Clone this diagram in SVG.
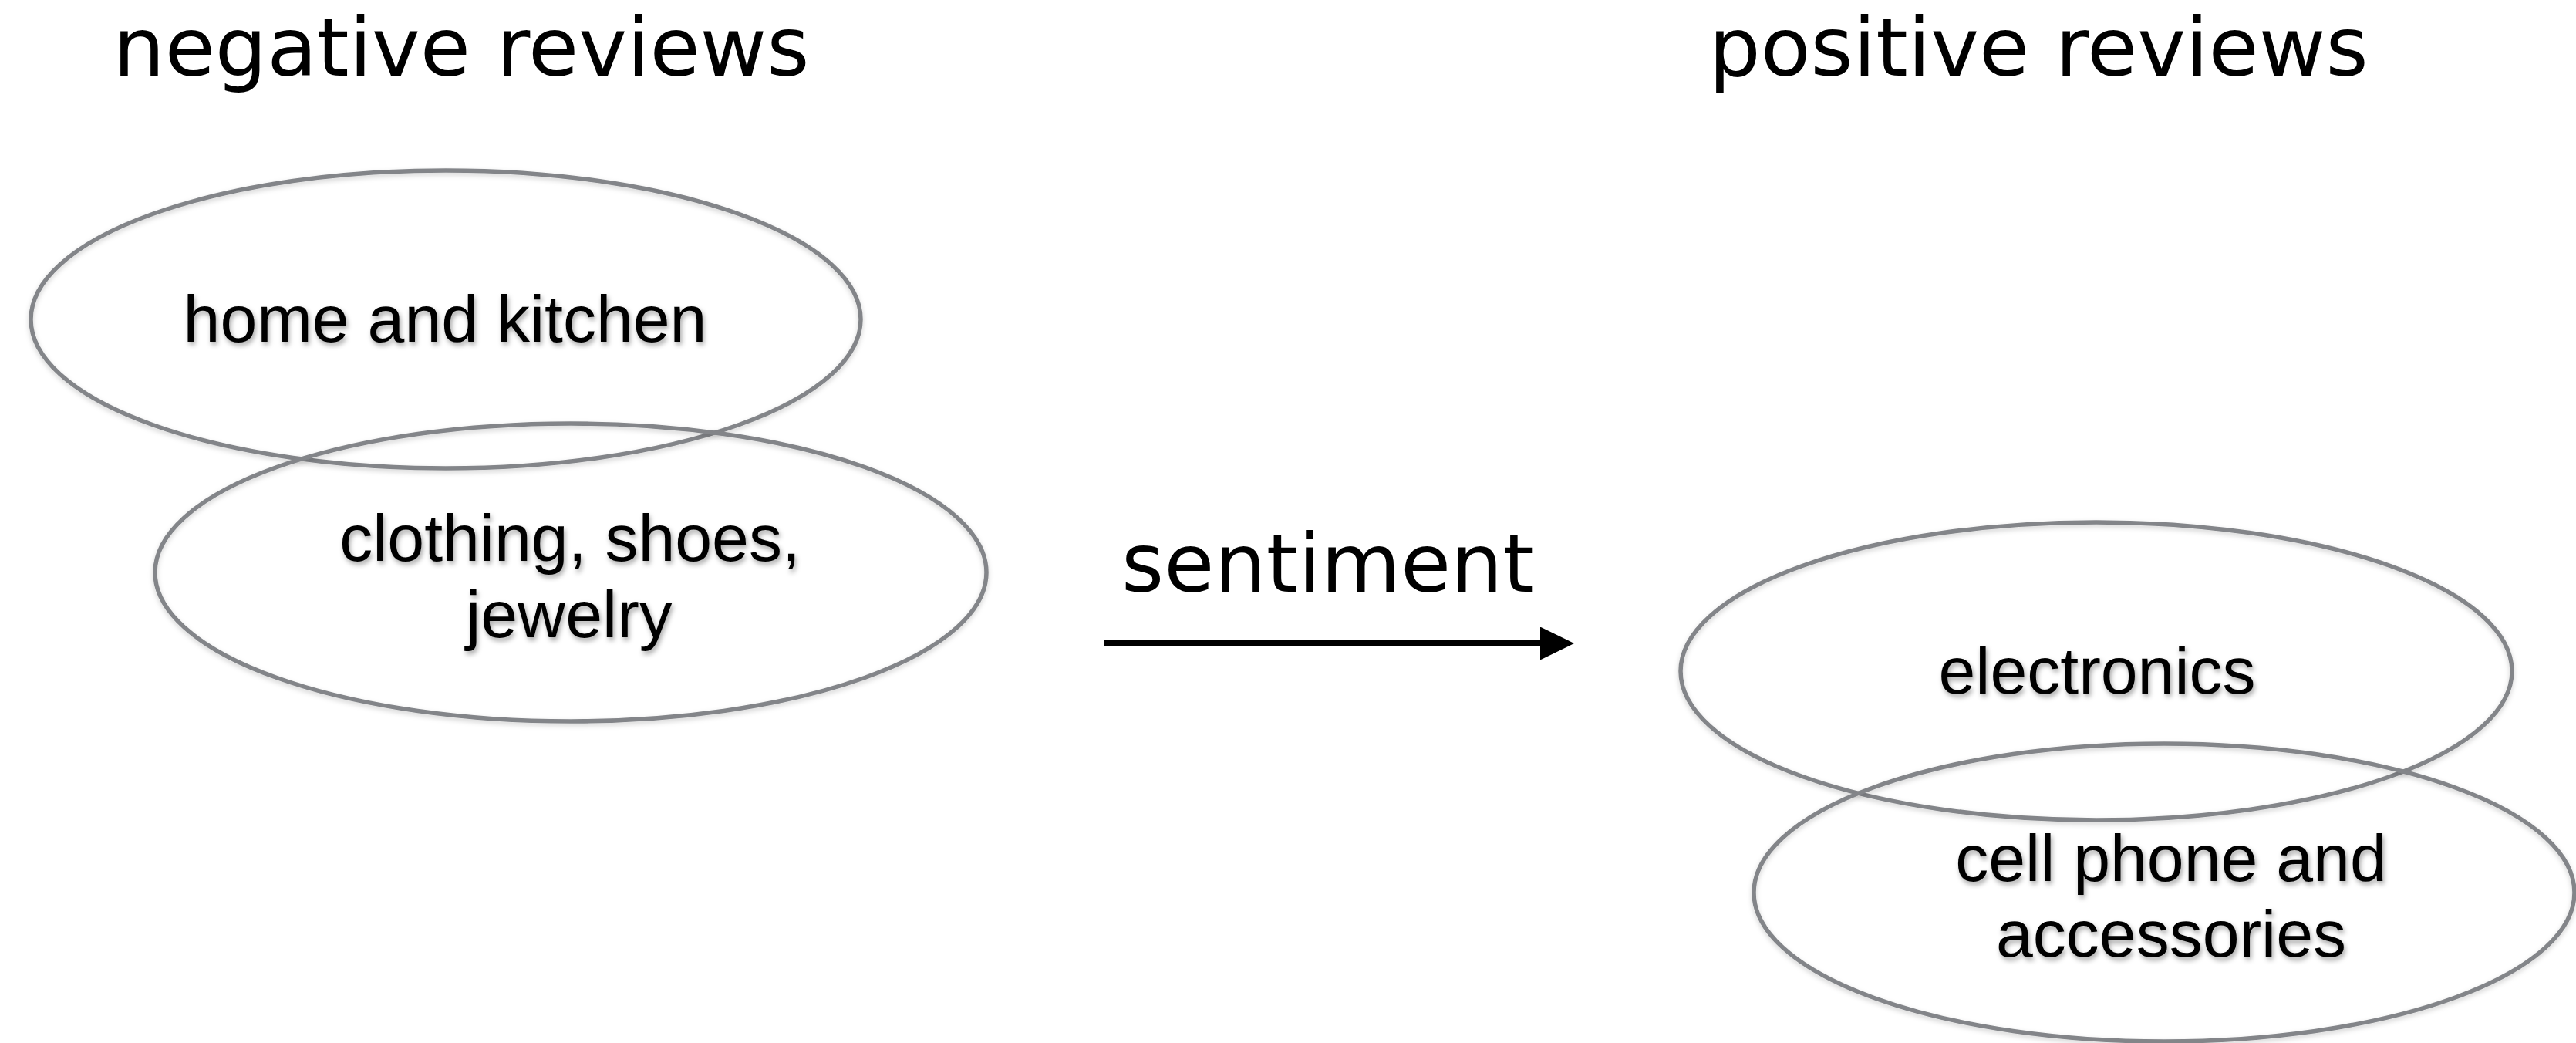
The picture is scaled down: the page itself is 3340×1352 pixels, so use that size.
<svg xmlns="http://www.w3.org/2000/svg" width="3340" height="1352" viewBox="0 0 3340 1352">
  <style>
    .title { font-family: "DejaVu Sans", sans-serif; font-size: 106px; fill: #000; text-anchor: middle; }
    .ring { fill: none; stroke: #838589; stroke-width: 5.5; filter: url(#haze); }
    .label { font-family: "Liberation Sans", "Helvetica", sans-serif; font-size: 86px; fill: #000; text-anchor: middle; filter: url(#soft); }
    .wire { stroke: #000; stroke-width: 8; fill: none; }
  </style>
  <defs>
    <filter id="soft" x="-10%" y="-30%" width="120%" height="160%">
      <feDropShadow dx="2" dy="4" stdDeviation="3" flood-color="#000" flood-opacity="0.35"/>
    </filter>
    <filter id="haze" x="-5%" y="-10%" width="110%" height="120%">
      <feDropShadow dx="0" dy="3" stdDeviation="3" flood-color="#000" flood-opacity="0.18"/>
    </filter>
    <marker id="head" markerWidth="44" markerHeight="43" refX="0" refY="21.5" orient="auto" markerUnits="userSpaceOnUse">
      <path d="M0,0 L44,21.5 L0,43 Z" fill="#000"/>
    </marker>
  </defs>

  <rect width="3340" height="1352" fill="#fff"/>

  <text class="title" x="598" y="98">negative reviews</text>
  <text class="title" x="2643" y="98">positive reviews</text>

  <g id="home-kitchen">
    <ellipse class="ring" cx="578" cy="414" rx="538" ry="193"/>
    <text class="label" x="577" y="443">home and kitchen</text>
  </g>
  <g id="clothing">
    <ellipse class="ring" cx="740" cy="742" rx="539" ry="193"/>
    <text class="label" x="739" y="727">clothing, shoes,</text>
    <text class="label" x="738" y="826">jewelry</text>
  </g>
  <g id="electronics">
    <ellipse class="ring" cx="2718" cy="870" rx="539" ry="193"/>
    <text class="label" x="2719" y="899">electronics</text>
  </g>
  <g id="cell-phone">
    <ellipse class="ring" cx="2806" cy="1157" rx="532" ry="193"/>
    <text class="label" x="2815" y="1142">cell phone and</text>
    <text class="label" x="2815" y="1240">accessories</text>
  </g>

  <g id="connectors">
    <line class="wire" x1="1431" y1="834" x2="1997" y2="834" marker-end="url(#head)"/>
    <text class="title" x="1722" y="767">sentiment</text>
  </g>
</svg>
